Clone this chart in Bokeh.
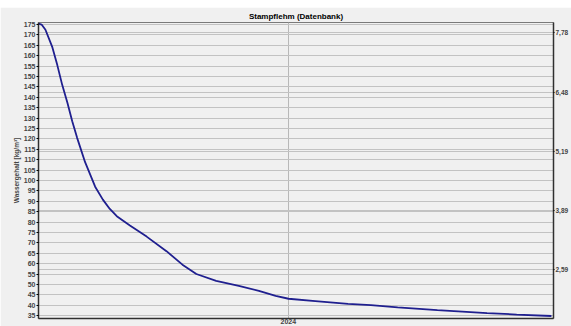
from bokeh.plotting import figure
from bokeh.models import (Range1d, LinearAxis, FixedTicker, CustomJSTickFormatter,
                          Grid, Div, ColumnDataSource)
from bokeh.layouts import column
from bokeh.embed import file_html
from bokeh.resources import INLINE

# Water content of rammed earth over time (decimal years)
years = [2023.030, 2023.042, 2023.057, 2023.084, 2023.103, 2023.122, 2023.142,
         2023.161, 2023.180, 2023.211, 2023.250, 2023.280, 2023.307, 2023.334,
         2023.385, 2023.450, 2023.527, 2023.589, 2023.643, 2023.720, 2023.808,
         2023.886, 2023.951, 2024.001, 2024.105, 2024.232, 2024.321, 2024.425,
         2024.579, 2024.772, 2024.887, 2025.022]
water_content = [175.5, 175.0, 172.5, 164.0, 155.5, 146.0, 137.5, 128.5, 120.5,
                 108.8, 97.0, 90.8, 86.3, 82.8, 78.3, 73.0, 66.0, 59.5, 55.0,
                 51.7, 49.3, 46.9, 44.5, 43.1, 42.0, 40.6, 40.0, 39.0, 37.6,
                 36.2, 35.5, 34.8]

x_ticks = [2024]
y_ticks = list(range(35, 180, 5))
mass_pct_ticks = [2.59, 3.89, 5.19, 6.48, 7.78]

# kg/m³ -> mass-% for a bulk density of 2200 kg/m³
KG_PER_PCT = 22.0

X0, X1 = 2023.03, 2025.03
Y0, Y1 = 33.6, 176.0

BG = "#f0f0f0"
GRID = "#c2c2c2"
FONT = "Liberation Sans"

p = figure(width=571, height=319, output_backend="svg", toolbar_location=None,
           x_range=Range1d(X0, X1), y_range=Range1d(Y0, Y1),
           background_fill_color=BG, border_fill_color=BG,
           min_border_left=38, min_border_right=0, min_border_top=0,
           min_border_bottom=0, title="Stampflehm (Datenbank)")

p.title.align = "center"
p.title.text_font = FONT
p.title.text_font_size = "8px"
p.title.text_font_style = "bold"
p.title.text_color = "#000000"
p.title.standoff = 4

p.outline_line_color = "#7a7a7a"
p.outline_line_width = 1

# bottom axis: a single year tick
xa = p.xaxis[0]
xa.ticker = FixedTicker(ticks=x_ticks)
xa.major_label_text_font = FONT
xa.major_label_text_font_size = "7px"
xa.major_label_text_font_style = "bold"
xa.major_label_standoff = 0
xa.major_tick_out = 0
xa.major_tick_in = 0
xa.minor_tick_line_color = None
xa.axis_line_color = "#303030"
xa.axis_line_width = 1.5

# left axis: water content
ya = p.yaxis[0]
ya.ticker = FixedTicker(ticks=y_ticks)
ya.axis_label = "Wassergehalt [kg/m³]"
ya.axis_label_text_font = FONT
ya.axis_label_text_font_size = "6.5px"
ya.axis_label_text_font_style = "bold"
ya.axis_label_standoff = 1
ya.major_label_text_font = FONT
ya.major_label_text_font_size = "7px"
ya.major_label_text_font_style = "bold"
ya.major_label_standoff = 1
ya.major_tick_out = 2
ya.major_tick_in = 0
ya.minor_tick_line_color = None
ya.axis_line_color = "#303030"
ya.axis_line_width = 1.5

p.xgrid.ticker = FixedTicker(ticks=x_ticks)
p.xgrid.grid_line_color = "#b8b8b8"
p.ygrid.ticker = FixedTicker(ticks=y_ticks)
p.ygrid.grid_line_color = GRID

# right axis: mass percent
p.extra_y_ranges = {"pct": Range1d(Y0 / KG_PER_PCT, Y1 / KG_PER_PCT)}
ra = LinearAxis(y_range_name="pct", ticker=FixedTicker(ticks=mass_pct_ticks),
                formatter=CustomJSTickFormatter(code="return tick.toFixed(2).replace('.', ',')"))
ra.major_label_text_font = FONT
ra.major_label_text_font_size = "6.5px"
ra.major_label_text_font_style = "bold"
ra.major_label_standoff = 1
ra.major_tick_out = 1
ra.major_tick_in = 0
ra.minor_tick_line_color = None
ra.axis_line_color = "#303030"
ra.axis_line_width = 1.5
p.add_layout(ra, "right")
p.add_layout(Grid(dimension=1, axis=ra, y_range_name="pct", grid_line_color=GRID))

src = ColumnDataSource(dict(x=years, y=water_content))
p.line("x", "y", source=src, line_color="#1f1f8f", line_width=1.8)

strip = Div(width=571, height=7, styles={"background-color": "white"}, margin=0)
layout = column(strip, p, spacing=0)

open("out.html", "w").write(file_html(layout, INLINE))
